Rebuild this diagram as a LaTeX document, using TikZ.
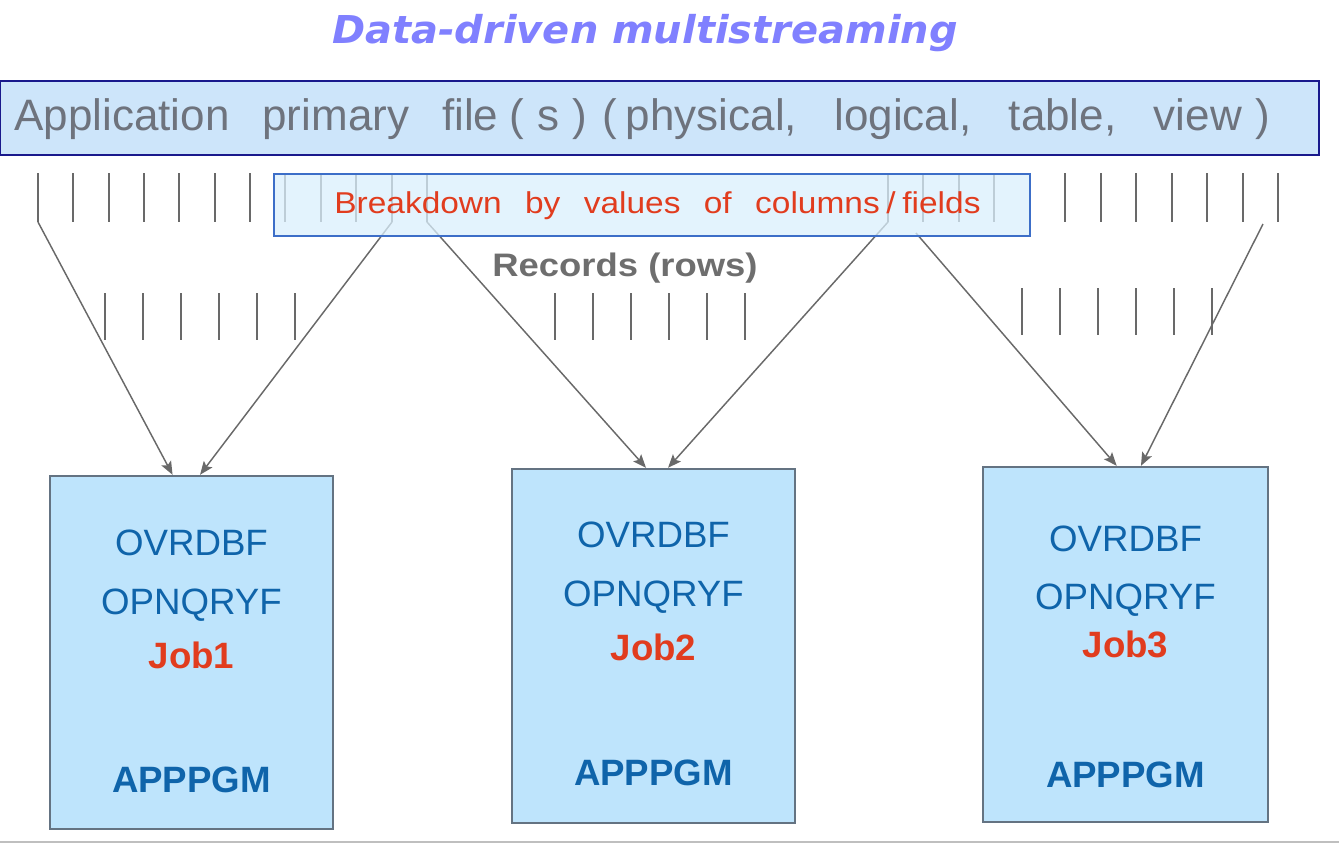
\documentclass[tikz,border=0pt]{standalone}
\usepackage{fontspec}
\setmainfont{Liberation Sans}
\newfontfamily\titlefont{DejaVu Sans}
\usetikzlibrary{arrows.meta,fit}
\definecolor{ttlblue}{RGB}{128,128,255}
\definecolor{barfill}{RGB}{205,229,250}
\definecolor{barnavy}{RGB}{25,25,140}
\definecolor{appgray}{RGB}{110,115,125}
\definecolor{tickgray}{RGB}{105,105,105}
\definecolor{brkfill}{RGB}{218,239,252}
\definecolor{brkedge}{RGB}{60,110,200}
\definecolor{jobred}{RGB}{225,60,30}
\definecolor{recgray}{RGB}{110,110,110}
\definecolor{jobfill}{RGB}{190,228,252}
\definecolor{jobedge}{RGB}{100,115,130}
\definecolor{cmdblue}{RGB}{15,100,170}
\begin{document}
\begin{tikzpicture}[x=0.75pt,y=-0.75pt,
  tick/.style={draw=tickgray,line width=1.5pt},
  link/.style={draw=tickgray,line width=1.1pt,-{Stealth[length=10pt,width=8pt,inset=2pt]}},
  jobbox/.style={draw=jobedge,fill=jobfill,line width=1.8pt,inner sep=0pt},
  cmd/.style={anchor=base,text=cmdblue,inner sep=0pt,font=\fontsize{27.5}{30}\selectfont},
  jobname/.style={cmd,text=jobred,font=\bfseries\fontsize{27.5}{30}\selectfont},
  pgm/.style={cmd,font=\bfseries\fontsize{27.5}{30}\selectfont}]
\useasboundingbox (0,0) rectangle (1339,844);
% title and file bar
\node[anchor=base,inner sep=0pt,text=ttlblue] (title) at (645,43.3) {\scalebox{1.04}[1]{\titlefont\bfseries\itshape\fontsize{28.8}{32}\selectfont Data-driven multistreaming}};
\node[fit={(0,81)(1319,155)},inner sep=0pt,draw=barnavy,fill=barfill,line width=2.2pt] (bar) {};
\node[anchor=base west,inner sep=0pt,text=appgray,font=\fontsize{33}{36}\selectfont] (app) at (14,130) {Application\hspace{.75em}primary\hspace{.75em}file\hspace{.25em}(\hspace{.3em}s\hspace{.3em})\hspace{.35em}(\hspace{.2em}physical,\hspace{.85em}logical,\hspace{.85em}table,\hspace{.85em}view\hspace{.3em})};
% records
\foreach \k in {0,...,11}{\draw[tick] ({38+35.35*\k},173) -- ++(0,49); \draw[tick] ({888+35.45*\k},173) -- ++(0,49);}
\foreach \x in {105,143,...,295,555,593,...,745}{\draw[tick] (\x,293) -- ++(0,47);}
\foreach \x in {1022,1060,...,1212}{\draw[tick] (\x,288) -- ++(0,47);}
% job boxes
\foreach \n/\l/\t/\r/\b in {1/50/476/333/829,2/512/469/795/823,3/983/467/1268/822}{\node[jobbox,fit={(\l,\t)(\r,\b)}] (job\n) {};}
\coordinate (s1) at (38,222); \coordinate (s2) at (392,222); \coordinate (s3) at (427,222);
\coordinate (s4) at (888,222); \coordinate (s5) at (916,233); \coordinate (s6) at (1263,224);
\draw[link] (s1) -- ([xshift=-14.2pt]job1.north);
\draw[link] (s2) -- ([xshift=6.4pt]job1.north);
\draw[link] (s3) -- ([xshift=-5.6pt]job2.north);
\draw[link] (s4) -- ([xshift=10.9pt]job2.north);
\draw[link] (s5) -- ([xshift=-6.6pt]job3.north);
\draw[link] (s6) -- ([xshift=11.6pt]job3.north);
\node[fit={(274,174)(1030,236)},inner sep=0pt,draw=brkedge,fill=brkfill,fill opacity=.75,line width=1.8pt] (brk) {};
\node[anchor=base,inner sep=0pt,text=jobred,font=\fontsize{22.6}{26}\selectfont] (brklbl) at (657.5,213.3) {\scalebox{1.11}[1]{Breakdown\hspace{.7em}by\hspace{.7em}values\hspace{.7em}of\hspace{.7em}columns\hspace{.2em}/\hspace{.2em}fields}};
\node[anchor=base,inner sep=0pt,text=recgray,font=\bfseries\fontsize{24.4}{28}\selectfont] (rec) at (625,276.7) {\scalebox{1.12}[1]{Records (rows)}};
% job texts
\foreach \n/\x/\ya/\yb/\yc/\yd in {1/191.5/555/614/668/792,2/653.5/547/606/660/785,3/1125.5/551/609/657/787}{
  \node[cmd] (ovr\n) at (\x,\ya) {OVRDBF};
  \node[cmd] (opn\n) at (\x,\yb) {OPNQRYF};
  \node[jobname] (jn\n) at (\x,\yc) {Job\n};
  \node[pgm] (pgm\n) at (\x,\yd) {APPPGM};
}
\draw[line width=2.2pt,draw=black!25] (0,842) -- (1339,842);
\end{tikzpicture}
\end{document}
